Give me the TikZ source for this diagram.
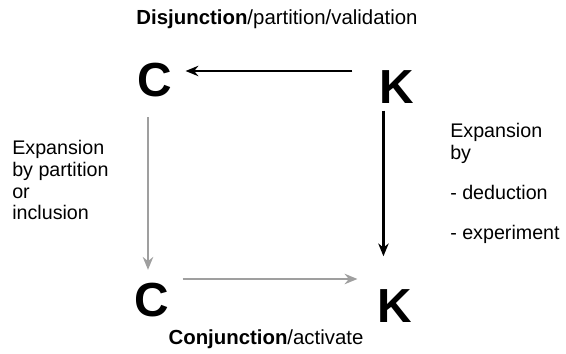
\documentclass[tikz,border=0pt]{standalone}
\usepackage{fontspec}
\setmainfont{Liberation Sans}
\usetikzlibrary{positioning,arrows.meta,calc}
\usepackage{xcolor}
\begin{document}
\begin{tikzpicture}[x=0.025cm,y=-0.025cm,>={Stealth[length=3.2mm,width=2.6mm]},
  letter/.style={inner sep=0pt,font=\fontsize{34}{34}\selectfont\bfseries},
  note/.style={inner sep=0pt,font=\fontsize{14}{15.6}\selectfont,align=left}]
\useasboundingbox (0,0) rectangle (566,354);
\node[inner sep=0pt,font=\fontsize{14.5}{16}\selectfont,anchor=base] (title) at (277,25) {\textbf{Disjunction}/partition/validation};
\node[letter] (C1) at (155,80) {C};
\node[letter] (K1) at (397,87) {K};
\node[letter] (C2) at (152,300) {C};
\node[letter] (K2) at (395,306) {K};
\node[inner sep=0pt,font=\fontsize{14.5}{16}\selectfont,anchor=base] (bottom) at (266,344) {\textbf{Conjunction}/activate};
% base anchor sits on the last line here
\node[note,anchor=base west] (left) at (12,220) {Expansion\\by partition\\or\\inclusion};
\node[note,anchor=base west] (right) at (450,240) {Expansion\\by\\[13pt]- deduction\\[13pt]- experiment};
\draw[->,line width=1.8pt] ($(K1.west)+(-27,-16)$) -- ($(C1.east)+(13,-9)$);
\draw[->,line width=1.8pt] ($(K1.south west)+(4,7)$) -- ($(K2.north west)+(6,-33)$);
\draw[->,line width=1.6pt,gray!75] ($(C1.south)+(-7,20)$) -- ($(C2.north)+(-4,-13)$);
\draw[->,line width=1.6pt,gray!75] ($(C2.east)+(13,-21)$) -- ($(K2.west)+(-20,-27)$);
\end{tikzpicture}
\end{document}
